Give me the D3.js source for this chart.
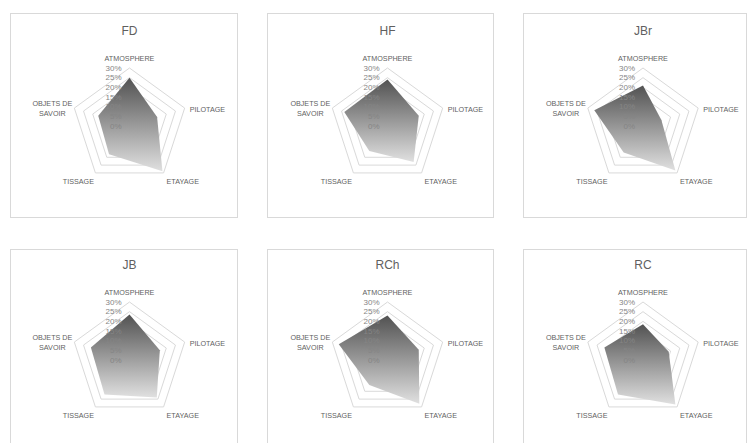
<!DOCTYPE html>
<html>
<head>
<meta charset="utf-8">
<script src="https://cdn.jsdelivr.net/npm/d3@7"></script>
<style>
  html, body { margin: 0; padding: 0; background: #ffffff; }
  svg { display: block; font-family: "Liberation Sans", Arial, sans-serif; }
</style>
</head>
<body>
<svg id="chart" width="749" height="443"></svg>
<script>
// Axes of each radar (clockwise from the top)
const axes = ["ATMOSPHERE", "PILOTAGE", "ETAYAGE", "TISSAGE", "OBJETS DE SAVOIR"];
// Panel titles, in reading order
const panelNames = ["FD", "HF", "JBr", "JB", "RCh", "RC"];
// Share of each axis, in %, per panel
const valuesFD  = [25, 15, 29, 18, 17];
const valuesHF  = [24, 17, 23, 16, 23.5];
const valuesJBr = [21, 10, 28.5, 17, 26.5];
const valuesJB  = [23.5, 16.5, 24, 22, 21];
const valuesRCh = [23, 17, 28, 16, 26.5];
const valuesRC  = [18.5, 14, 28.5, 22, 21];
// Radial tick values and labels
const tickValues = [0, 5, 10, 15, 20, 25, 30];
const tickLabels = ["0%", "5%", "10%", "15%", "20%", "25%", "30%"];

const series = [valuesFD, valuesHF, valuesJBr, valuesJB, valuesRCh, valuesRC];

const svg = d3.select("#chart");
const R = 58;
const colCenters = [129.5, 387.5, 643];
const rowCenters = [126, 360];
const boxX = [10.5, 267.5, 523.5];
const boxW = [227, 226, 223];
const boxY = [13.5, 249.5];
const boxH = [204, 220];

const r = d3.scaleLinear().domain([0, 30]).range([0, R]);
const angle = d3.scalePoint().domain(d3.range(axes.length + 1)).range([0, 2 * Math.PI]);

const defs = svg.append("defs");
const grad = defs.append("linearGradient")
  .attr("id", "areaFill")
  .attr("x1", 0).attr("y1", 0).attr("x2", 0).attr("y2", 1);
grad.append("stop").attr("offset", "0%").attr("stop-color", "#525252");
grad.append("stop").attr("offset", "100%").attr("stop-color", "#e0e0e0");

const ring = d3.lineRadial()
  .angle((d, i) => angle(i))
  .radius(d => r(d))
  .curve(d3.curveLinearClosed);

const labelColor = "#5f5f5f";

panelNames.forEach((name, p) => {
  const col = p % 3, row = Math.floor(p / 3);
  const cx = colCenters[col], cy = rowCenters[row];

  // frame
  svg.append("rect")
    .attr("x", boxX[col]).attr("y", boxY[row])
    .attr("width", boxW[col]).attr("height", boxH[row])
    .attr("fill", "none").attr("stroke", "#d9d9d9").attr("stroke-width", 1);

  const g = svg.append("g").attr("transform", `translate(${cx},${cy})`);

  // title
  g.append("text")
    .attr("x", 0).attr("y", -95)
    .attr("text-anchor", "middle").attr("dominant-baseline", "central")
    .attr("font-size", 12).attr("fill", labelColor)
    .text(name);

  // grid rings
  g.selectAll("path.ring")
    .data(tickValues.filter(t => t > 0))
    .join("path")
    .attr("class", "ring")
    .attr("d", t => ring(axes.map(() => t)))
    .attr("fill", "none").attr("stroke", "#d9d9d9").attr("stroke-width", 1);

  // data area
  g.append("path")
    .attr("d", ring(series[p]))
    .attr("fill", "url(#areaFill)");

  // radial tick labels
  g.selectAll("text.tick")
    .data(tickValues)
    .join("text")
    .attr("class", "tick")
    .attr("x", -8)
    .attr("y", (t) => -r(t))
    .attr("text-anchor", "end").attr("dominant-baseline", "central")
    .attr("font-size", 8).attr("fill", "#858585")
    .text((t, i) => tickLabels[i]);

  // category labels
  const vtx = i => {
    const a = angle(i);
    return [Math.sin(a) * R, -Math.cos(a) * R];
  };
  const lab = g.append("g").attr("font-size", 7.2).attr("fill", labelColor);

  let [x0, y0] = vtx(0);
  lab.append("text").attr("x", x0).attr("y", y0 - 10)
    .attr("text-anchor", "middle").attr("dominant-baseline", "central").text(axes[0]);

  [x0, y0] = vtx(1);
  lab.append("text").attr("x", x0 + 5).attr("y", y0 + 1.5)
    .attr("text-anchor", "start").attr("dominant-baseline", "central").text(axes[1]);

  [x0, y0] = vtx(2);
  lab.append("text").attr("x", x0 + 3).attr("y", y0 + 8.5)
    .attr("text-anchor", "start").attr("dominant-baseline", "central").text(axes[2]);

  [x0, y0] = vtx(3);
  lab.append("text").attr("x", x0 - 1.5).attr("y", y0 + 8.5)
    .attr("text-anchor", "end").attr("dominant-baseline", "central").text(axes[3]);

  [x0, y0] = vtx(4);
  const words = axes[4].split(" ");
  const lines = [words.slice(0, 2).join(" "), words.slice(2).join(" ")];
  lab.append("text").attr("x", x0 - 22).attr("y", y0 - 5)
    .attr("text-anchor", "middle").attr("dominant-baseline", "central").text(lines[0]);
  lab.append("text").attr("x", x0 - 22).attr("y", y0 + 5)
    .attr("text-anchor", "middle").attr("dominant-baseline", "central").text(lines[1]);
});
</script>
</body>
</html>
